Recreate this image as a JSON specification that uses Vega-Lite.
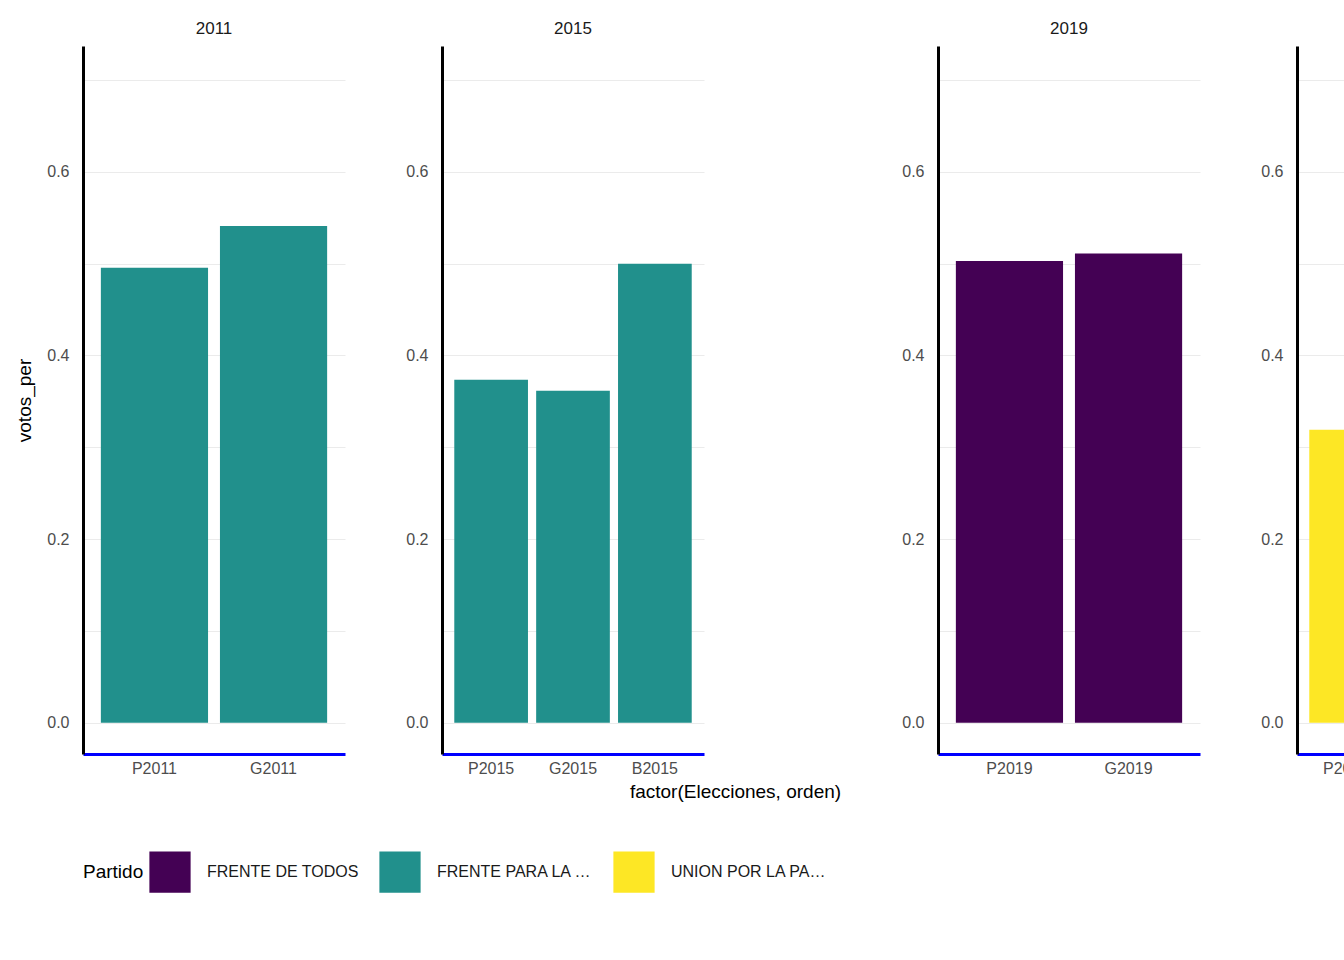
{
"$schema":"https://vega.github.io/schema/vega-lite/v6.json",
"background":"white",
"padding":{"left":15,"top":20,"right":10,"bottom":20},
"config":{"font":"Liberation Sans","view":{"stroke":null},"concat":{"spacing":60},
 "title":{"fontSize":17,"fontWeight":"normal","color":"#1a1a1a","offset":8},
 "axis":{"labelFont":"Liberation Sans","labelFontSize":16,"labelColor":"#4d4d4d","ticks":false,"gridColor":"#ebebeb","titleFontWeight":"normal","titleFontSize":19,"titleColor":"black"}},
"data":{"values":[
{"f":"2011","e":"P2011","o":1,"v":0.4955,"p":"FRENTE PARA LA VICTORIA"},
{"f":"2011","e":"G2011","o":2,"v":0.541,"p":"FRENTE PARA LA VICTORIA"},
{"f":"2015","e":"P2015","o":1,"v":0.3735,"p":"FRENTE PARA LA VICTORIA"},
{"f":"2015","e":"G2015","o":2,"v":0.3615,"p":"FRENTE PARA LA VICTORIA"},
{"f":"2015","e":"B2015","o":3,"v":0.4998,"p":"FRENTE PARA LA VICTORIA"},
{"f":"2019","e":"P2019","o":1,"v":0.503,"p":"FRENTE DE TODOS"},
{"f":"2019","e":"G2019","o":2,"v":0.511,"p":"FRENTE DE TODOS"},
{"f":"2023","e":"P2023","o":1,"v":0.319,"p":"UNION POR LA PATRIA"},
{"f":"2023","e":"G2023","o":2,"v":0.415,"p":"UNION POR LA PATRIA"},
{"f":"2023","e":"B2023","o":3,"v":0.492,"p":"UNION POR LA PATRIA"}
]},
"hconcat":[
{"title":"2011","width":262,"height":708,"transform":[{"filter":"datum.f==='2011'"}],"mark":"bar",
 "encoding":{"x":{"field":"e","sort":{"field":"o"},"scale":{"paddingInner":0.1,"paddingOuter":0.15},"axis":{"title":null,"bandPosition":0.5,"domainColor":"blue","domainWidth":3,"labelAngle":0,"labelPadding":6}},
 "y":{"field":"v","type":"quantitative","scale":{"domain":[-0.034,0.737],"nice":false,"zero":false},"axis":{"title":"votos_per","titlePadding":12,"values":[0,0.1,0.2,0.3,0.4,0.5,0.6,0.7],"labelExpr":"round(datum.value*10)%2==0 ? format(datum.value,'.1f') : ''","domainColor":"black","domainWidth":3,"labelPadding":14}},
 "color":{"field":"p","scale":{"domain":["FRENTE DE TODOS","FRENTE PARA LA VICTORIA","UNION POR LA PATRIA"],"range":["#440154","#21908C","#FDE725"]},"legend":{"title":"Partido","orient":"bottom","direction":"horizontal","titleOrient":"left","titleFontSize":19,"titleFontWeight":"normal","titleColor":"black","labelFontSize":16,"labelColor":"#1a1a1a","symbolType":"square","symbolSize":1700,"symbolStrokeWidth":0,"symbolOpacity":1,"columnPadding":20,"labelOffset":16,"offset":50}}}},
{"title":"2015","width":262,"height":708,"transform":[{"filter":"datum.f==='2015'"}],"mark":"bar",
 "encoding":{"x":{"field":"e","sort":{"field":"o"},"scale":{"paddingInner":0.1,"paddingOuter":0.15},"axis":{"title":"factor(Elecciones, orden)","titleX":293,"titleAlign":"center","titleFontSize":19,"titlePadding":6,"bandPosition":0.5,"domainColor":"blue","domainWidth":3,"labelAngle":0,"labelPadding":6}},
 "y":{"field":"v","type":"quantitative","scale":{"domain":[-0.034,0.737],"nice":false,"zero":false},"axis":{"title":null,"values":[0,0.1,0.2,0.3,0.4,0.5,0.6,0.7],"labelExpr":"round(datum.value*10)%2==0 ? format(datum.value,'.1f') : ''","domainColor":"black","domainWidth":3,"labelPadding":14}},
 "color":{"field":"p"}}},
{"title":"2019","width":262,"height":708,"transform":[{"filter":"datum.f==='2019'"}],"mark":"bar",
 "encoding":{"x":{"field":"e","sort":{"field":"o"},"scale":{"paddingInner":0.1,"paddingOuter":0.15},"axis":{"title":null,"bandPosition":0.5,"domainColor":"blue","domainWidth":3,"labelAngle":0,"labelPadding":6}},
 "y":{"field":"v","type":"quantitative","scale":{"domain":[-0.034,0.737],"nice":false,"zero":false},"axis":{"title":null,"values":[0,0.1,0.2,0.3,0.4,0.5,0.6,0.7],"labelExpr":"round(datum.value*10)%2==0 ? format(datum.value,'.1f') : ''","domainColor":"black","domainWidth":3,"labelPadding":14}},
 "color":{"field":"p"}}},
{"title":"2023","width":262,"height":708,"transform":[{"filter":"datum.f==='2023'"}],"mark":"bar",
 "encoding":{"x":{"field":"e","sort":{"field":"o"},"scale":{"paddingInner":0.1,"paddingOuter":0.15},"axis":{"title":null,"bandPosition":0.5,"domainColor":"blue","domainWidth":3,"labelAngle":0,"labelPadding":6}},
 "y":{"field":"v","type":"quantitative","scale":{"domain":[-0.034,0.737],"nice":false,"zero":false},"axis":{"title":null,"values":[0,0.1,0.2,0.3,0.4,0.5,0.6,0.7],"labelExpr":"round(datum.value*10)%2==0 ? format(datum.value,'.1f') : ''","domainColor":"black","domainWidth":3,"labelPadding":14}},
 "color":{"field":"p"}}}
]
}
